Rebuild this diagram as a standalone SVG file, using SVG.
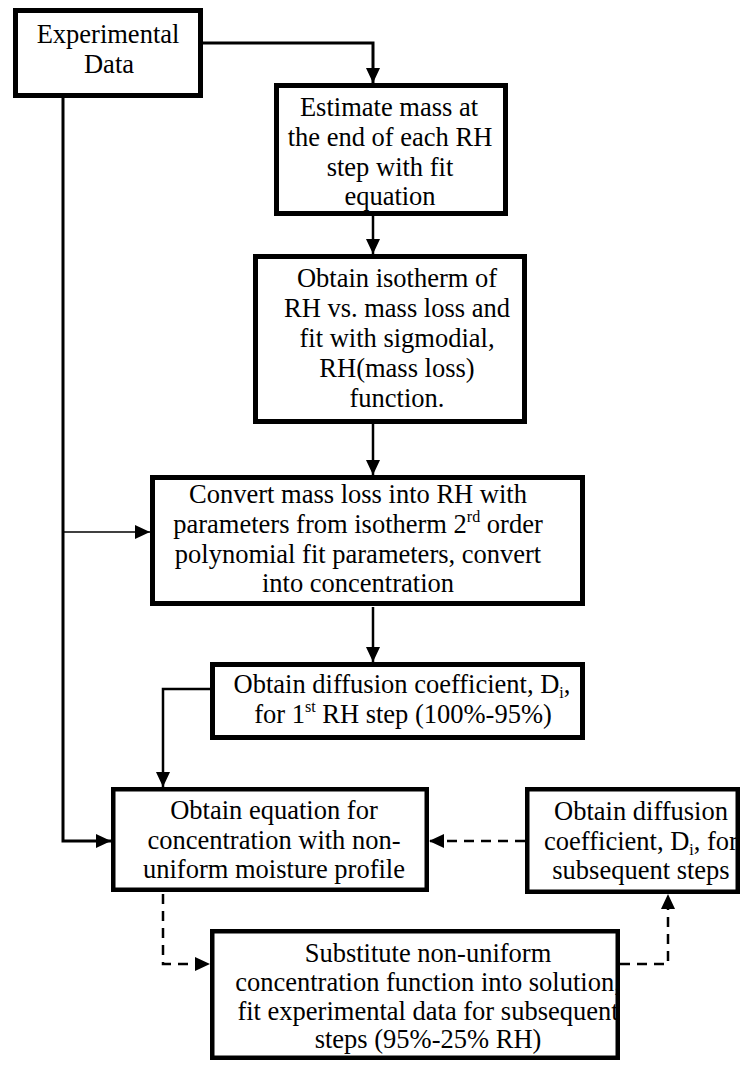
<svg xmlns="http://www.w3.org/2000/svg" width="745" height="1065" viewBox="0 0 745 1065">
<style>
  .box { fill: none; stroke: #000; stroke-width: 5; }
  .box4 { fill: none; stroke: #000; stroke-width: 4.5; }
  .t { font-family: "Liberation Serif", "Times New Roman", serif; font-size: 26.5px; fill: #000; text-anchor: middle; }
  .c { fill: none; stroke: #000; stroke-width: 2.5; }
  .thick { stroke-width: 3; }
  .thin { stroke-width: 1.6; }
  .d { fill: none; stroke: #000; stroke-width: 2.5; stroke-dasharray: 10 7; }
  .sup { font-size: 16px; }
</style>
<defs>
  <marker id="ah" markerUnits="userSpaceOnUse" markerWidth="15" markerHeight="14" refX="15" refY="7" orient="auto">
    <path d="M0,0 L15,7 L0,14 z" fill="#000"/>
  </marker>
</defs>
<rect x="0" y="0" width="745" height="1065" fill="#fff"/>

<g id="connectors">
  <polyline class="c thick" points="203,43 373,43 373,83" marker-end="url(#ah)"/>
  <line class="c" x1="373" y1="216" x2="373" y2="254" marker-end="url(#ah)"/>
  <line class="c" x1="373" y1="424" x2="373" y2="475" marker-end="url(#ah)"/>
  <line class="c" x1="373" y1="607" x2="373" y2="662" marker-end="url(#ah)"/>
  <polyline class="c thick" points="63,98 63,841 111,841" marker-end="url(#ah)"/>
  <line class="c thin" x1="63" y1="532" x2="150" y2="532" marker-end="url(#ah)"/>
  <polyline class="c" points="210,689 163,689 163,787" marker-end="url(#ah)"/>
  <line class="d" x1="525" y1="841" x2="429" y2="841" marker-end="url(#ah)"/>
  <polyline class="d" points="163,894 163,964 210,964" marker-end="url(#ah)"/>
  <polyline class="d" points="620,964 668,964 668,894" marker-end="url(#ah)"/>
</g>

<g id="experimental-data">
  <text class="t" x="108" y="43">Experimental</text>
  <text class="t" x="109" y="73">Data</text>
  <rect class="box" x="15.5" y="10.5" width="185" height="85"/>
</g>

<g id="estimate-mass">
  <text class="t" x="389" y="116">Estimate mass at</text>
  <text class="t" x="390" y="146">the end of each RH</text>
  <text class="t" x="390" y="176">step with fit</text>
  <text class="t" x="390" y="205">equation</text>
  <rect class="box" x="276.5" y="85.5" width="229" height="128"/>
</g>

<g id="obtain-isotherm">
  <text class="t" x="397" y="287">Obtain isotherm of</text>
  <text class="t" x="397" y="317">RH vs. mass loss and</text>
  <text class="t" x="397" y="347">fit with sigmodial,</text>
  <text class="t" x="397" y="377">RH(mass loss)</text>
  <text class="t" x="397" y="407">function.</text>
  <rect class="box" x="255.5" y="256.5" width="269" height="165"/>
</g>

<g id="convert-mass-loss">
  <text class="t" x="358" y="503">Convert mass loss into RH with</text>
  <text class="t" x="358" y="533">parameters from isotherm 2<tspan class="sup" dy="-11">rd</tspan><tspan dy="11"> order</tspan></text>
  <text class="t" x="358" y="563">polynomial fit parameters, convert</text>
  <text class="t" x="358" y="592">into concentration</text>
  <rect class="box" x="152.5" y="477.5" width="430" height="126"/>
</g>

<g id="diffusion-first-step">
  <text class="t" x="402" y="693">Obtain diffusion coefficient, D<tspan class="sup" dy="5">i</tspan><tspan dy="-5">,</tspan></text>
  <text class="t" x="403" y="723">for 1<tspan class="sup" dy="-11">st</tspan><tspan dy="11"> RH step (100%-95%)</tspan></text>
  <rect class="box" x="212.5" y="664.5" width="370" height="73"/>
</g>

<g id="obtain-equation">
  <text class="t" x="274" y="819">Obtain equation for</text>
  <text class="t" x="274" y="849">concentration with non-</text>
  <text class="t" x="274" y="878">uniform moisture profile</text>
  <rect class="box4" x="113.25" y="789.25" width="313.5" height="100.5"/>
</g>

<g id="diffusion-subsequent">
  <text class="t" x="641" y="820">Obtain diffusion</text>
  <text class="t" x="641" y="850">coefficient, D<tspan class="sup" dy="5">i</tspan><tspan dy="-5">, for</tspan></text>
  <text class="t" x="641" y="879">subsequent steps</text>
  <rect class="box4" x="527.25" y="789.25" width="210.5" height="102.5"/>
</g>

<g id="substitute">
  <text class="t" x="428" y="962">Substitute non-uniform</text>
  <text class="t" x="428" y="991">concentration function into solution,</text>
  <text class="t" x="428" y="1020">fit experimental data for subsequent</text>
  <text class="t" x="428" y="1048">steps (95%-25% RH)</text>
  <rect class="box4" x="212.25" y="931.25" width="405.5" height="126.5"/>
</g>
</svg>
